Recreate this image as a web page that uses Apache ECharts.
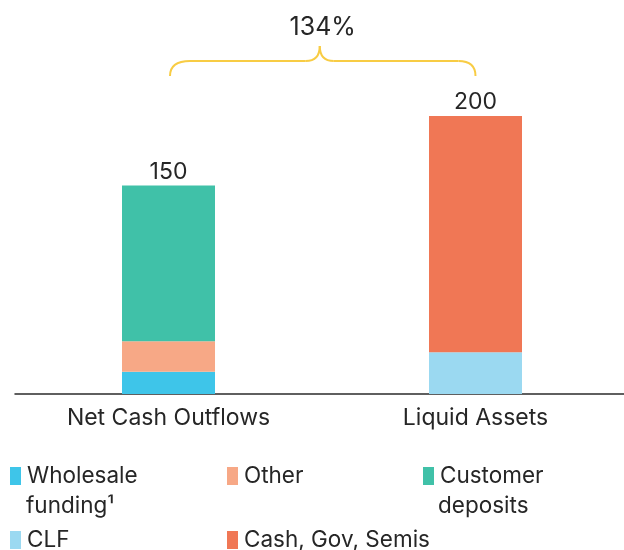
<!DOCTYPE html>
<html>
<head>
<meta charset="utf-8">
<script src="https://cdn.jsdelivr.net/npm/echarts@6/dist/echarts.min.js"></script>
<style>
html,body{margin:0;padding:0;background:#fff;overflow:hidden;width:624px;height:550px;}
#c{width:632px;height:550px;}
</style>
</head>
<body>
<div id="c"></div>
<script>
var categories = ['Net Cash Outflows', 'Liquid Assets'];
var wholesale = [16, null];
var other = [22, null];
var customer = [112, null];
var clf = [null, 30];
var cash = [null, 170];
var ratioLabel = '134%';

var FONT = 'Inter, "Liberation Sans", sans-serif';
var TXT = '#262626';
var colors = {
  wholesale: '#3EC5E9',
  other: '#F7A886',
  customer: '#40C1A8',
  clf: '#9BD9F1',
  cash: '#F07755'
};

function total(i) {
  return [wholesale, other, customer, clf, cash].reduce(function (s, a) { return s + (a[i] || 0); }, 0);
}

var chart = echarts.init(document.getElementById('c'), null, {renderer: 'canvas'});

function mk(name, data, color, showTotal) {
  return {
    name: name,
    type: 'bar',
    stack: 'a',
    data: data,
    barWidth: 93,
    itemStyle: {color: color},
    label: showTotal ? {
      show: true,
      position: 'top',
      distance: 2,
      color: TXT,
      fontFamily: FONT,
      fontSize: 23,
      formatter: function (p) { return String(total(p.dataIndex)); }
    } : {show: false},
    emphasis: {disabled: true},
    animation: false
  };
}

function legendAt(name, left, top) {
  return {
    data: [name],
    left: left,
    top: top,
    padding: 0,
    icon: 'rect',
    itemWidth: 11,
    itemHeight: 18,
    selectedMode: false,
    textStyle: {color: TXT, fontFamily: FONT, fontSize: 22.5, lineHeight: 24, padding: [0, 0, 0, 1]}
  };
}

var option = {
  backgroundColor: '#fff',
  animation: false,
  grid: {left: 15, width: 614, top: 116, height: 278, containLabel: false},
  xAxis: {
    type: 'category',
    data: categories,
    axisLine: {show: true, lineStyle: {color: '#2b2b2b', width: 1.5}},
    axisTick: {show: false},
    axisLabel: {color: TXT, fontFamily: FONT, fontSize: 23, margin: 13}
  },
  yAxis: {
    type: 'value',
    min: 0,
    max: 200,
    show: false,
    splitLine: {show: false}
  },
  legend: [
    legendAt('Wholesale', 10, 464),
    legendAt('Other', 227, 464),
    legendAt('Customer', 423, 464),
    legendAt('CLF', 10, 528),
    legendAt('Cash, Gov, Semis', 227, 528)
  ],
  series: [
    mk('Wholesale', wholesale, colors.wholesale, false),
    mk('Other', other, colors.other, false),
    mk('Customer', customer, colors.customer, true),
    mk('CLF', clf, colors.clf, false),
    mk('Cash, Gov, Semis', cash, colors.cash, true)
  ]
};
chart.setOption(option);

// annotation brace between the two bars
var p0 = chart.convertToPixel({xAxisIndex: 0, yAxisIndex: 0}, [0, 200]);
var p1 = chart.convertToPixel({xAxisIndex: 0, yAxisIndex: 0}, [1, 200]);
var xl = p0[0] + 1.5, xr = p1[0];
var yTop = p0[1];
var yEnd = yTop - 40, yH = yTop - 55, yPk = yTop - 70;
var xm = (xl + xr) / 2 - 3;
var bs = {stroke: '#F8CC44', lineWidth: 2, fill: null};
function bez(x1, y1, cx, cy, x2, y2) {
  return {type: 'bezierCurve', shape: {x1: x1, y1: y1, cpx1: cx, cpy1: cy, x2: x2, y2: y2}, style: bs, silent: true};
}
function ln(x1, y1, x2, y2) {
  return {type: 'line', shape: {x1: x1, y1: y1, x2: x2, y2: y2}, style: bs, silent: true};
}

chart.setOption({
  graphic: [
    bez(xl, yEnd, xl, yH, xl + 20, yH),
    ln(xl + 20, yH, xm - 14, yH),
    bez(xm - 14, yH, xm, yH, xm, yPk),
    bez(xm, yPk, xm, yH, xm + 14, yH),
    ln(xm + 14, yH, xr - 17, yH),
    bez(xr - 17, yH, xr, yH, xr, yEnd),
    {type: 'text', x: (xl + xr) / 2, y: yTop - 89, style: {text: ratioLabel, fill: TXT, font: '25px ' + FONT, textAlign: 'center', textVerticalAlign: 'middle'}},
    {type: 'text', x: 26, y: 506, style: {text: 'funding¹', fill: TXT, font: '22.5px ' + FONT, textVerticalAlign: 'middle'}},
    {type: 'text', x: 438, y: 506, style: {text: 'deposits', fill: TXT, font: '22.5px ' + FONT, textVerticalAlign: 'middle'}}
  ]
});
</script>
</body>
</html>
